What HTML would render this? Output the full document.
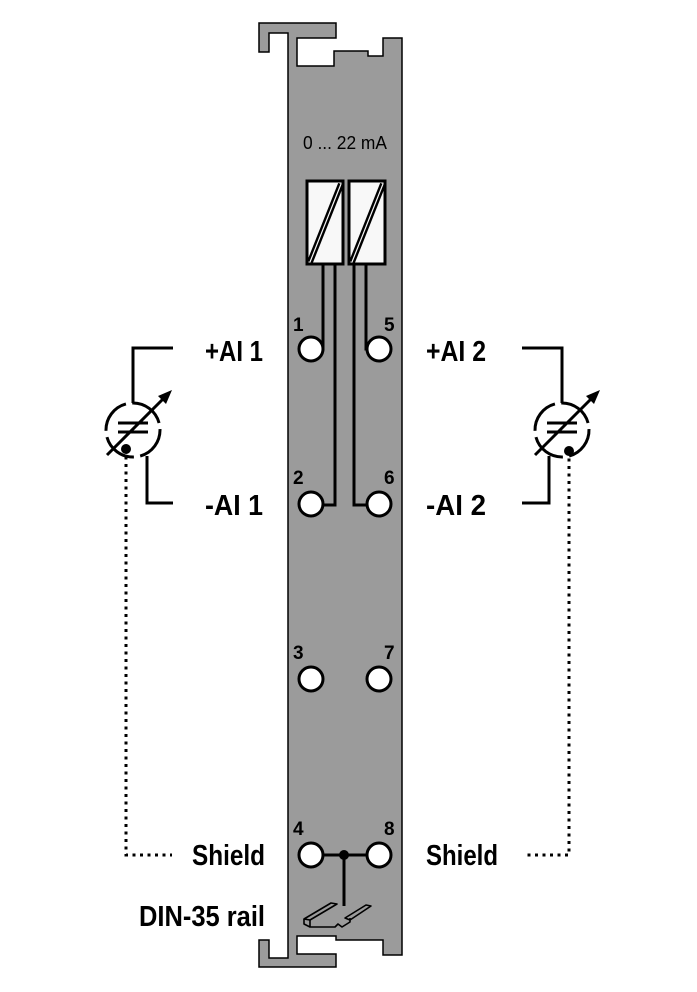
<!DOCTYPE html>
<html><head><meta charset="utf-8"><style>
html,body{margin:0;padding:0;background:#fff;}
svg{display:block;}
text{font-family:"Liberation Sans",sans-serif;fill:#000;}
</style></head><body>
<svg width="697" height="992" viewBox="0 0 697 992" xmlns="http://www.w3.org/2000/svg">
<polygon points="259,23 336,23 336,38 297,38 297,66 334,66 334,51 368,51 368,56 383,56 383,38 402,38 402,955 383,955 383,940 336,940 336,936 297,936 297,954 336,954 336,967 259,967 259,940 269,940 269,958 288,958 288,33 269,33 269,52 259,52" fill="#9b9b9b" stroke="#000" stroke-width="1.5"/>
<text x="345" y="149" font-size="18" text-anchor="middle" textLength="84" lengthAdjust="spacingAndGlyphs">0 ... 22 mA</text>
<g fill="#f8f8f8" stroke="#000" stroke-width="3">
<rect x="307" y="181" width="36" height="83"/>
<rect x="349" y="181" width="36" height="83"/>
</g>
<g stroke="#000" stroke-width="6"><line x1="310" y1="262" x2="341" y2="184"/><line x1="352" y1="262" x2="383" y2="184"/></g>
<g stroke="#f8f8f8" stroke-width="1.2"><line x1="310" y1="262" x2="341" y2="184"/><line x1="352" y1="262" x2="383" y2="184"/></g>
<g fill="none" stroke="#000" stroke-width="3">
<polyline points="323,265 323,349 318,349"/>
<polyline points="335,265 335,505 318,505"/>
<polyline points="354,265 354,505 372,505"/>
<polyline points="366,265 366,349 372,349"/>
<polyline points="311,855 379,855"/>
<line x1="344" y1="855" x2="344" y2="906"/>
</g>
<circle cx="344" cy="855" r="5" fill="#000"/>
<g fill="#fff" stroke="#000" stroke-width="3">
<circle cx="311" cy="349" r="12"/><circle cx="379" cy="349" r="12"/>
<circle cx="311" cy="504" r="12"/><circle cx="379" cy="504" r="12"/>
<circle cx="311" cy="679" r="12"/><circle cx="379" cy="679" r="12"/>
<circle cx="311" cy="855" r="12"/><circle cx="379" cy="855" r="12"/>
</g>
<g font-size="19" font-weight="bold">
<text x="293" y="331">1</text><text x="384" y="331">5</text>
<text x="293" y="484">2</text><text x="384" y="484">6</text>
<text x="293" y="659">3</text><text x="384" y="659">7</text>
<text x="293" y="835">4</text><text x="384" y="835">8</text>
</g>
<g fill="#9b9b9b" stroke="#000" stroke-width="1.6" stroke-linejoin="round">
<polygon points="304,919 331,903 337,904 310,920"/>
<polygon points="345,918 366,905 371,906 350,920"/>
<polyline points="310,920 310,927 335,927 338,924 342,927 350,922 350,918" fill="none"/>
<polyline points="304,919 304,924 310,927" fill="none"/>
</g>
<g font-size="29" font-weight="bold">
<text x="205" y="361" textLength="58" lengthAdjust="spacingAndGlyphs">+AI 1</text>
<text x="426" y="361" textLength="60" lengthAdjust="spacingAndGlyphs">+AI 2</text>
<text x="205" y="515" textLength="58" lengthAdjust="spacingAndGlyphs">-AI 1</text>
<text x="426" y="515" textLength="60" lengthAdjust="spacingAndGlyphs">-AI 2</text>
<text x="192" y="865" textLength="73" lengthAdjust="spacingAndGlyphs">Shield</text>
<text x="426" y="865" textLength="72" lengthAdjust="spacingAndGlyphs">Shield</text>
<text x="139" y="926" textLength="126" lengthAdjust="spacingAndGlyphs">DIN-35 rail</text>
</g>
<g fill="none" stroke="#000" stroke-width="3">
<polyline points="173,348 133,348 133,403"/>
<polyline points="147,456 147,503 173,503"/>
<circle cx="133" cy="430" r="27" stroke-dasharray="36 6.4" transform="rotate(-2 133 430)"/>
<line x1="118" y1="423" x2="148" y2="423"/><line x1="118" y1="432" x2="148" y2="432"/>
<line x1="107" y1="455" x2="164" y2="398"/>
<polyline points="126,449 126,855 172,855" stroke-dasharray="3 4.5"/>
</g>
<polygon points="172,390 158,396 166,404" fill="#000"/>
<circle cx="126" cy="449" r="5" fill="#000"/>
<g fill="none" stroke="#000" stroke-width="3">
<polyline points="522,348 562,348 562,403"/>
<polyline points="549,456 549,503 522,503"/>
<circle cx="562" cy="430" r="27" stroke-dasharray="36 6.4" transform="rotate(-2 562 430)"/>
<line x1="547" y1="423" x2="577" y2="423"/><line x1="547" y1="432" x2="577" y2="432"/>
<line x1="535" y1="455" x2="592" y2="398"/>
<polyline points="569,451 569,855 526,855" stroke-dasharray="3 4.5"/>
</g>
<polygon points="600,390 586,396 594,404" fill="#000"/>
<circle cx="569" cy="451" r="5" fill="#000"/>
</svg>
</body></html>
